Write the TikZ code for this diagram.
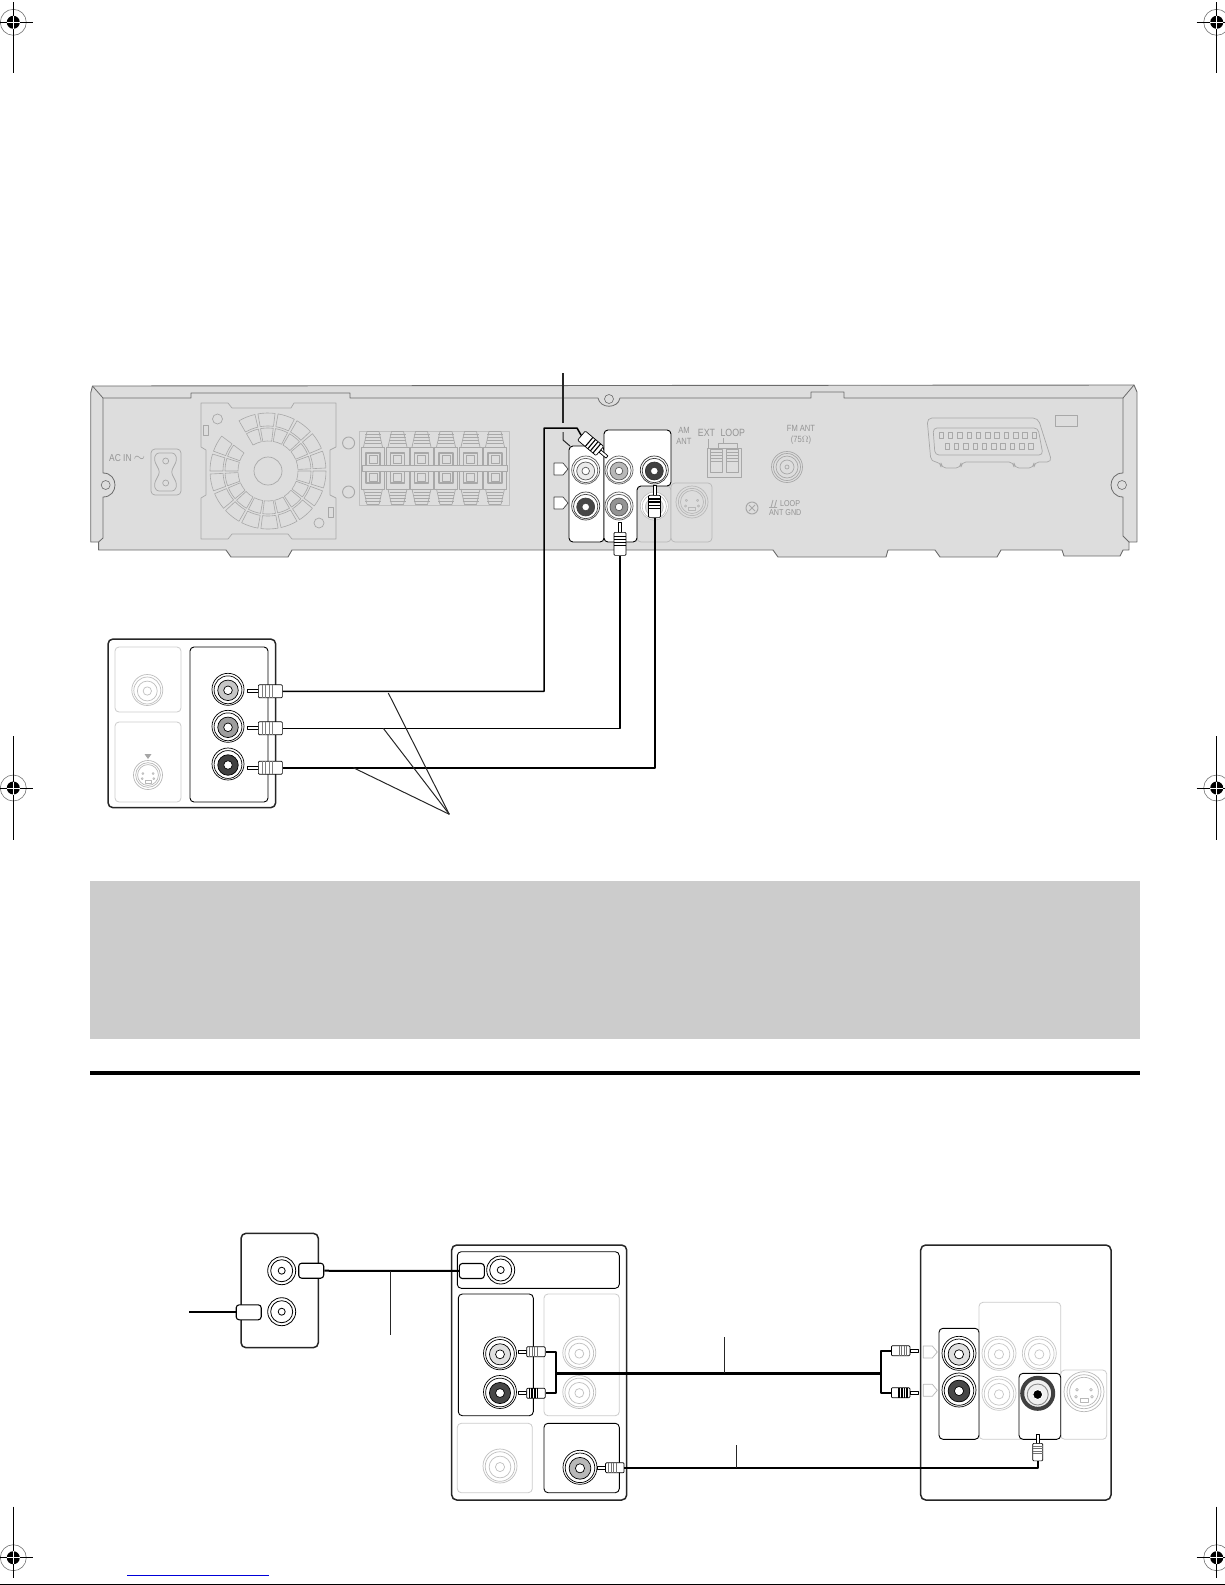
\documentclass[tikz,border=0pt]{standalone}
\usepackage{fontspec}
\setmainfont[FakeStretch=0.84]{Liberation Sans}
\usetikzlibrary{calc,positioning}
\definecolor{chassis}{gray}{0.865}
\definecolor{chassisline}{gray}{0.66}
\definecolor{chassisedge}{gray}{0.42}
\tikzset{
    panelblack/.style={draw=black, line width=0.9pt, rounded corners=4pt, fill=white},
    panelgray/.style={draw=black!20, line width=0.8pt, rounded corners=4pt, fill=white},
    panelshade/.style={draw=black!28, line width=0.7pt, rounded corners=4pt, fill=chassis},
    boxouter/.style={draw=black!85, line width=1.5pt, rounded corners=5pt, fill=white},
    partline/.style={draw=chassisline, line width=0.7pt},
    wire/.style={draw=black, line width=1.5pt},
    boldwire/.style={draw=black, line width=2pt},
    heavywire/.style={draw=black, line width=3pt},
    leaderline/.style={draw=black!85, line width=1pt},
    plugbody/.style={draw=black, line width=0.7pt, fill=white, rectangle, rounded corners=1pt, inner sep=0pt, anchor=west, transform shape},
    coaxplug/.style={draw=black, line width=1.1pt, fill=white, rectangle, rounded corners=3pt, inner sep=0pt, minimum width=25pt, minimum height=15pt},
    panellabel/.style={text=black!42, inner sep=0pt, align=center, font=\fontsize{9}{11}\selectfont},
    cropdot/.style={fill=black, draw=none},
}
\begin{document}
\begin{tikzpicture}[x=1pt, y=-1pt, line join=round]
    \useasboundingbox (0,0) rectangle (1225,1585);

    % Chassis of the main unit
    \draw[draw=chassisedge, line width=0.9pt, fill=chassis] (92.5,386) -- (1134,385) -- (1137,392) -- (1137,542) -- (1129,542) -- (1129,550)
        -- (1123,550) -- (1120,556) -- (1064,556) -- (1062,550) -- (1001,550) -- (997,557) -- (940,557) -- (935,550)
        -- (888,550) -- (886,557) -- (778,557) -- (773,550) -- (292,550) -- (288,557) -- (231,557) -- (226,550)
        -- (98.6,550) -- (98.6,542) -- (90.7,542) -- (90.7,393) -- cycle;
    \draw[draw=chassisedge, line width=0.8pt] (92.5,386) -- (103,398) -- (191,398) -- (191,393) -- (350,393) -- (350,398) -- (598,398)
        .. controls (600,409) and (618,409) .. (620,398) -- (811,398) -- (811,392) -- (844,392) -- (844,398) -- (1123,398) -- (1134,385);
    \draw[draw=chassisedge, line width=0.8pt] (103,398) -- (103,473) .. controls (119,473) and (119,497) .. (103,497) -- (103,538) -- (98.6,542);
    \draw[draw=chassisedge, line width=0.8pt] (1123,398) -- (1123,473) .. controls (1107,473) and (1107,497) .. (1123,497) -- (1123,536) -- (1129,542);
    \foreach \x/\y/\r in {105.7/485/4.5, 1122/485/4.5, 609/399/4.5} {
        \draw[draw=chassisedge, line width=0.6pt] (\x,\y) circle[radius=\r];
    }

    % AC inlet
    \node[panellabel, anchor=west, font=\fontsize{10}{10}\selectfont] (acLabel) at (109,458) {AC IN {\fontsize{14}{14}\selectfont$\sim$}};
    \draw[partline, rounded corners=4pt] (151,449) rectangle (181,495);
    \draw[partline, rounded corners=3pt] (156,453) -- (175,453) -- (177,460) -- (171,472) -- (177,484) -- (175,491) -- (156,491) -- (154,484) -- (160,472) -- (154,460) -- cycle;
    \foreach \y in {461, 483} {
        \draw[partline] (165.7,\y) circle[radius=3];
    }

    % Fan plate
    \draw[partline] (201,403) -- (228,403) -- (232,408) -- (291,408) -- (294,403) -- (336,403) -- (336,447) -- (330,450) -- (330,495) -- (336,498) -- (336,539)
        -- (292,539) -- (288,534) -- (232,534) -- (228,539) -- (201,539) -- (201,498) -- (206,495) -- (206,450) -- (201,447) -- cycle;
    \draw[partline] (268,471) circle[radius=14];
    \draw[partline] (217.5,419) circle[radius=5];
    \draw[partline] (319,523) circle[radius=5];
    \draw[partline] (203,425) rectangle (208,435);
    \draw[partline] (328,507) rectangle (333.5,517);
    \begin{scope}[shift={(268,471)}]
        \foreach \a in {240,260,...,560} {
            \draw[partline, line width=0.6pt] (\a:30) -- (\a:43) arc[start angle=\a, delta angle=17, radius=43] -- (\a+17:30) arc[start angle=\a+17, delta angle=-17, radius=30] -- cycle;
            \draw[partline, line width=0.6pt] (\a:45) -- (\a:58) arc[start angle=\a, delta angle=17, radius=58] -- (\a+17:45) arc[start angle=\a+17, delta angle=-17, radius=45] -- cycle;
        }
    \end{scope}

    % Speaker terminals
    \foreach \y in {443, 492} {
        \draw[partline, line width=0.9pt] (348.6,\y) circle[radius=6];
    }
    \draw[draw=black!25, line width=0.6pt] (359,431) rectangle (509,505);
    \foreach \x in {373,397.5,421.5,446,470.5,495} {
        \draw[partline] (\x-9.5,447) -- (\x-6,431.5) -- (\x+6,431.5) -- (\x+9.5,447);
        \draw[partline] (\x-9.5,489) -- (\x-6,504.5) -- (\x+6,504.5) -- (\x+9.5,489);
        \foreach \s in {434.5,437.5,440.5,443.5} {
            \draw[partline] (\x-8,\s) -- (\x+8,\s);
            \draw[partline] (\x-8,936-\s) -- (\x+8,936-\s);
        }
        \draw[partline] (\x-11.5,447) rectangle (\x+11.5,489);
        \draw[partline, line width=1.1pt] (\x-7,453) rectangle (\x+7,483);
        \draw[partline, line width=0.9pt] (\x-4,455.5) rectangle (\x+4,463);
        \draw[partline, line width=0.9pt] (\x-4,473) rectangle (\x+4,481);
    }
    \draw[partline, fill=chassis] (362,465) rectangle (507,471.5);

    % Antenna terminals
    \node[panellabel] (amLabel) at (684,436) {AM\\ANT};
    \node[panellabel, font=\fontsize{10.5}{11}\selectfont] (loopLabel) at (721.5,433) {EXT\hspace{3pt} LOOP};
    \draw[partline] (708,439) -- (708,448) (718,448) -- (718,443) -- (737,443) -- (737,448) (723,443) -- (723,438);
    \draw[partline] (707,448) rectangle (741,477);
    \foreach \x in {710,726} {
        \draw[partline, line width=0.9pt] (\x,449) rectangle ++(12,23);
        \foreach \s in {452,455,458,461} {
            \draw[partline] (\x,\s) -- ++(12,0);
        }
    }
    \node[panellabel] (fmLabel) at (801,435) {FM ANT\\(75$\Omega$)};
    \foreach \r in {15.5,13.5,11,7,2} {
        \draw[partline] (787,467) circle[radius=\r];
    }
    \draw[partline, line width=1pt] (752,508) circle[radius=6];
    \draw[partline, line width=1pt] (749,505) -- (755,511) (755,505) -- (749,511);
    \draw[partline, line width=0.9pt] (769,507.5) -- (777,507.5) (771,507.5) -- (773,500) (774.5,507.5) -- (776.5,500);
    \node[panellabel, anchor=west, font=\fontsize{8.5}{9}\selectfont] (gndLoopLabel) at (780,503.5) {LOOP};
    \node[panellabel, anchor=west, font=\fontsize{8.5}{9}\selectfont] (gndAntLabel) at (769,513) {ANT GND};

    % Scart socket
    \draw[partline, rounded corners=5pt] (927,418) -- (1038,418) -- (1052,462) -- (1034,462) -- (1034,468) -- (1014,468) -- (1014,462) -- (961,462) -- (961,468) -- (941,468) -- (941,462) -- (931,462) -- cycle;
    \draw[partline, rounded corners=4pt] (933,428) -- (1038,428) -- (1043,455) -- (935,455) -- cycle;
    \foreach \i in {0,...,10} {
        \draw[partline] (941+\i*9.3-2,432) rectangle ++(4.5,6);
    }
    \foreach \i in {0,...,9} {
        \draw[partline] (947+\i*9.3-2,443) rectangle ++(4.5,6);
    }
    \draw[partline] (1055,415) rectangle (1077,426);

    % Panels on the main unit
    \draw[panelshade] (637,486) rectangle (671,542);
    \draw[panelshade] (671,483) rectangle (712,542);
    \draw[panelblack] (569,446) rectangle (604,542);
    \draw[panelblack] (604,430) -- (671,430) -- (671,486) -- (637,486) -- (637,542) -- (604,542) -- cycle;

    % Monitor on the upper picture
    \draw[boxouter] (108,639) rectangle (275.7,807.7);
    \draw[panelgray] (115,647) rectangle (181,712);
    \draw[panelgray] (115,722) rectangle (181,802);
    \draw[panelblack] (190,647) rectangle (268,802);
    \fill[black!35] (144.5,754) -- (151.5,754) -- (148,759) -- cycle;

    % Boxes and panels of the lower picture
    \draw[boxouter] (241,1233.3) rectangle (318.3,1347.7);
    \draw[boxouter] (451.7,1245) rectangle (626.7,1500);
    \draw[panelblack] (457.3,1251.7) rectangle (619.3,1288.3);
    \draw[panelblack] (458.3,1294) rectangle (533.3,1415.7);
    \draw[panelgray] (544,1294) rectangle (619.3,1415.7);
    \draw[panelgray] (457.3,1423.3) rectangle (532.3,1492.7);
    \draw[panelblack] (544,1423.3) rectangle (619.3,1492.7);
    \draw[boxouter] (920.7,1245) rectangle (1111,1500);
    \draw[panelgray] (979,1302.3) rectangle (1060.7,1439.3);
    \draw[panelgray] (1060.7,1370) rectangle (1106.7,1439.3);
    \draw[panelblack] (939,1328.3) rectangle (979,1439.3);
    \draw[panelblack] (1019,1373.3) rectangle (1060.7,1439.3);

    % Jacks: x/y/radius/line colour/core colour
    \foreach \x/\y/\r/\rim/\core in {
        585.7/470/14/black!65/black!8, 585.7/506/14/black!75/black!72,
        619/470/14/black!65/black!28, 619/506/14/black!65/black!42,
        654.3/470/14/black!80/black!75, 654.3/506/14/black!25/chassis,
        147.3/690/15.5/black!25/white,
        228/689.3/16/black/black!22, 228/726.3/16/black/black!38, 228/764/16/black/black!75,
        500/1353.3/16.5/black/black!12, 500/1392/16.5/black/black!72,
        579.3/1352.7/16.5/black!25/white, 579.3/1392/16.5/black!25/white,
        500/1466/17/black!25/white, 580/1467.3/17/black/black!28,
        959/1353.3/17/black/black!12, 959/1390/17/black/black!72,
        999/1353.3/17/black!22/white, 1039.3/1353.3/17/black!22/white, 999/1393.3/17/black!22/white} {
        \draw[draw=\rim, line width=0.7pt, fill=white] (\x,\y) circle[radius=\r];
        \draw[draw=\rim, line width=0.7pt] (\x,\y+0.5) circle[radius=0.87*\r];
        \draw[draw=\rim, line width=0.7pt, fill=\core] (\x,\y+1) circle[radius=0.64*\r];
        \draw[draw=\rim, line width=0.7pt, fill=white] (\x,\y+1) circle[radius=0.27*\r];
    }
    % Aerial sockets
    \foreach \x/\y in {281.7/1270.7, 281.7/1311.7, 500.7/1270} {
        \draw[draw=black, line width=0.8pt, fill=white] (\x,\y) circle[radius=14];
        \draw[draw=black, line width=0.8pt] (\x,\y) circle[radius=11];
        \draw[draw=black, line width=0.8pt] (\x,\y) circle[radius=3.5];
    }
    % Dark video socket of the television
    \draw[draw=black!75, line width=4pt, fill=black!6] (1037.7,1393.3) circle[radius=15.5];
    \draw[draw=black!45, line width=0.9pt] (1037.7,1394.5) circle[radius=10.5];
    \draw[draw=white, line width=1pt, fill=black] (1037.7,1394.5) circle[radius=5];

    % S-video sockets
    \foreach \x/\y/\r in {692/502/16, 148/775/14.5, 1084/1391.7/20} {
        \draw[draw=black!28, line width=0.7pt] (\x,\y) circle[radius=\r];
        \draw[draw=black!28, line width=0.7pt] (\x,\y) circle[radius=0.85*\r];
        \draw[draw=black!28, line width=0.7pt] (\x,\y) circle[radius=0.72*\r];
        \draw[draw=black!28, line width=0.7pt] (\x-0.2*\r,\y+0.35*\r) rectangle (\x+0.2*\r,\y+0.55*\r);
        \foreach \u/\v in {-0.35/-0.1, 0.35/-0.1, -0.4/0.25, 0.4/0.25} {
            \draw[draw=black!28, line width=0.7pt] (\x+\u*\r,\y+\v*\r) circle[radius=0.07*\r];
        }
    }

    % White signal marks
    \foreach \x/\y/\rim in {554/463/black!75, 554/497/black!75, 923.3/1346/black!28, 923.3/1384.3/black!28} {
        \draw[draw=\rim, line width=0.7pt, fill=white] (\x,\y) -- ++(9,0) -- ++(5,6) -- ++(-5,6) -- ++(-9,0) -- cycle;
    }

    % Plugs: name/tip x/tip y/rotation/tip length/body length/body height/stripe colour/stripe width
    \foreach \name/\x/\y/\rot/\tiplen/\bodylen/\bodywid/\col/\sw in {
        sysPlugY/607/457/140/9/24/12/black/1.1,
        sysPlugB/620/522/-90/10/23/12/black/1.1,
        sysPlugR/654.5/485/-90/10/22/12/black/1.1,
        monPlugY/247/691.3/0/11/24/13/black!50/0.8,
        monPlugB/247/728.3/0/11/24/13/black!50/0.8,
        monPlugR/247/767.7/0/11/24/13/black!50/0.8,
        recPlugL/518.3/1351.7/0/8/18.5/10/black!55/1,
        recPlugR/518.3/1393.3/0/8/18.5/10/black/1.6,
        recPlugV/597.7/1467.7/0/7.5/18.5/10/black!55/1,
        tvPlugL/918.3/1350.7/180/8/18.5/10/black!55/1,
        tvPlugR/918.3/1392.7/180/8/18.5/10/black/1.6,
        tvPlugV/1037.7/1434/-90/9/17.5/10/black!55/1} {
        \begin{scope}[shift={(\x,\y)}, rotate=\rot]
            \draw[draw=black, line width=0.7pt, fill=white] (0,-1.5) rectangle (\tiplen,1.5);
            \node[plugbody, minimum width=\bodylen pt, minimum height=\bodywid pt] (\name) at (\tiplen,0) {};
            \foreach \f in {0.18,0.32,0.46,0.6} {
                \draw[draw=\col, line width=\sw pt] (\tiplen+\f*\bodylen,-\bodywid/2) -- (\tiplen+\f*\bodylen,\bodywid/2);
            }
        \end{scope}
    }

    % Flat plugs of the aerial cables
    \node[coaxplug] (boxPlugOut) at (311.2,1270.7) {};
    \node[coaxplug] (recPlugIn) at (471.8,1271) {};
    \node[coaxplug] (boxPlugIn) at (248.7,1312.3) {};
    \coordinate (aerialEnd) at (189,1312.3);

    % Cables of the upper picture
    \coordinate (wireBendA) at (544,428);
    \coordinate (wireBendB) at (577,428);
    \draw[wire] (monPlugY.east) -| (wireBendA) -- (wireBendB) -- (sysPlugY.east);
    \draw[wire] (monPlugB.east) -| (sysPlugB.east);
    \draw[boldwire] (monPlugR.east) -| (sysPlugR.east);

    % Leader lines of the upper picture
    \coordinate (leadTop) at (563,373);
    \coordinate (leadEnd) at (563,423);
    \coordinate (kinkA) at (563,432);
    \coordinate (kinkB) at (563,440);
    \coordinate (kinkC) at (570,446);
    \draw[leaderline, line width=1.4pt] (leadTop) -- (leadEnd);
    \draw[leaderline] (kinkA) -- (kinkB) -- (kinkC);
    \coordinate (cableApex) at (449.3,814.3);
    \coordinate (cableY) at (388.3,693);
    \coordinate (cableB) at (383.3,728.3);
    \coordinate (cableR) at (353.3,767.7);
    \draw[leaderline] (cableApex) -- (cableY);
    \draw[leaderline] (cableApex) -- (cableB);
    \draw[leaderline] (cableApex) -- (cableR);

    % Cables of the lower picture
    \draw[boldwire] (aerialEnd) -- (boxPlugIn);
    \draw[boldwire] (boxPlugOut) -- (recPlugIn);
    \coordinate (recJoin) at (555.7,1373);
    \coordinate (tvJoin) at (880.7,1373);
    \draw[boldwire] (recPlugL.east) -| (recJoin) |- (recPlugR.east);
    \draw[boldwire] (tvPlugL.east) -| (tvJoin) |- (tvPlugR.east);
    \draw[heavywire] (recJoin) -- (tvJoin);
    \draw[boldwire] (recPlugV.east) -| (tvPlugV.east);
    \coordinate (aerialTick) at (390.3,1270.7);
    \coordinate (aerialTickEnd) at (390.3,1335);
    \draw[leaderline] (aerialTick) -- (aerialTickEnd);
    \coordinate (audioTick) at (724.7,1337);
    \coordinate (audioTickEnd) at (724.7,1373);
    \draw[leaderline] (audioTick) -- (audioTickEnd);
    \coordinate (videoTick) at (736,1445);
    \coordinate (videoTickEnd) at (736,1468);
    \draw[leaderline] (videoTick) -- (videoTickEnd);

    % Grey band and rule
    \fill[black!20] (90,881) rectangle (1140,1039);
    \fill[black] (90,1071) rectangle (1140,1074.5);

    % Registration marks: x/y/left/right/top/bottom
    \foreach \x/\y/\hl/\hr/\vt/\vb in {13.3/22.3/13.3/20/20/51, 1216.7/22.3/20/13.3/20/51,
        13.3/788/13.3/20/52/52, 1216.7/788/20/13.3/52/52,
        13.3/1557.7/13.3/20/51/20, 1216.7/1557.7/20/13.3/51/20} {
        \draw[draw=black!55, line width=0.6pt] (\x,\y) circle[radius=13];
        \draw[draw=black, line width=0.9pt] (\x-\hl,\y) -- (\x+\hr,\y);
        \draw[draw=black, line width=0.9pt] (\x,\y-\vt) -- (\x,\y+\vb);
        \fill[cropdot] (\x,\y) circle[radius=6.5];
        \draw[draw=white, line width=0.9pt] (\x-6.5,\y) -- (\x+6.5,\y) (\x,\y-6.5) -- (\x,\y+6.5);
    }

    % Page foot
    \draw[draw=blue!85!black, line width=0.9pt] (127,1575.3) -- (268.5,1575.3);
    \draw[draw=black, line width=1pt] (0,1584) -- (1225,1584);
\end{tikzpicture}
\end{document}
